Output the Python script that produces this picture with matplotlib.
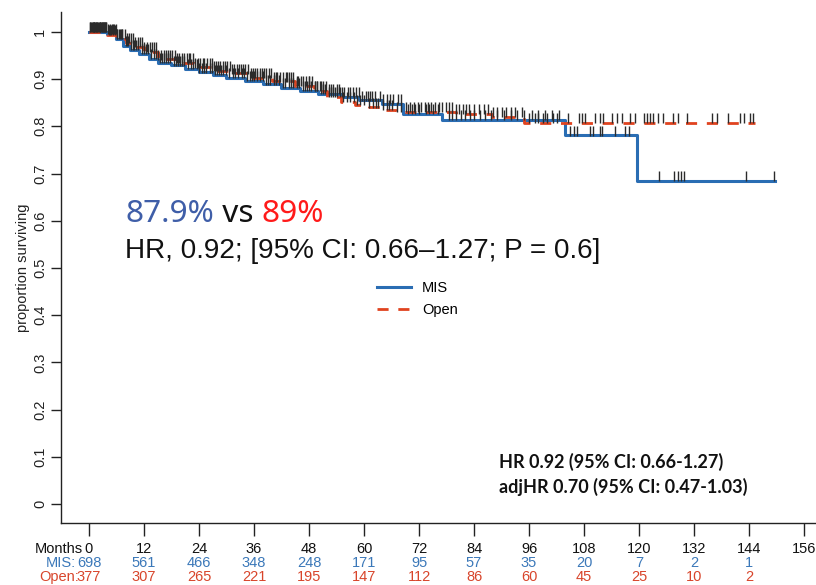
import numpy as np
import matplotlib
matplotlib.use("Agg")
import matplotlib.pyplot as plt
from matplotlib import font_manager as fm
import matplotlib.transforms as mtrans

# ---------------- data ----------------
mis_times = [0, 4, 6, 7.5, 9, 11, 13, 15, 18, 21, 24, 27, 30, 34, 38, 42, 46, 50, 55, 59, 64, 68.5, 77, 103.9, 119.6]
mis_surv = [1.0, 0.995, 0.985, 0.970, 0.962, 0.953, 0.943, 0.935, 0.929, 0.921, 0.914, 0.909, 0.903, 0.896,
            0.889, 0.882, 0.875, 0.868, 0.862, 0.855, 0.848, 0.826, 0.814, 0.781, 0.685]
mis_end = 149.7

open_times = [0, 4, 6, 8, 10, 12, 15, 19, 23, 27, 31, 35, 40, 45, 49, 52, 55, 58, 61, 64, 67, 80, 88, 95]
open_surv = [1.0, 0.993, 0.985, 0.976, 0.968, 0.958, 0.942, 0.935, 0.925, 0.918, 0.912, 0.903, 0.895, 0.885,
             0.875, 0.862, 0.852, 0.846, 0.840, 0.835, 0.830, 0.826, 0.820, 0.808]
open_end = 145.3

mis_censor = [0.2, 0.5, 0.8, 1, 1.2, 1.5, 1.8, 2, 2.3, 2.5, 2.8, 3, 3.3, 3.5, 3.8, 4.2, 4.6, 5, 5.3, 5.5, 5.8,
              6.2, 6.6, 7, 7.3, 8, 8.3, 8.6, 9.2, 9.5, 9.9, 10.3, 10.8, 11.5, 11.9, 12.4, 12.8, 13.6, 14.2,
              14.7, 15.5, 15.9, 16.3, 16.8, 17.2, 17.7, 18.5, 18.9, 19.4, 19.8, 20.3, 20.8, 21.5, 22.2, 22.8,
              23.5, 24.1, 24.6, 25.1, 25.5, 26.3, 26.8, 27.5, 27.9, 28.3, 28.8, 29.2, 29.8, 30.5, 31.4, 31.8,
              32.6, 33.3, 33.9, 34.5, 35.1, 35.5, 36.1, 36.6, 37.4, 37.9, 38.6, 39.1, 39.5, 40.4, 40.9, 41.5,
              42.3, 42.8, 43.6, 44.1, 44.5, 45.4, 45.9, 46.6, 47.2, 47.5, 48.1, 48.5, 49.4, 49.8, 50.6, 51.1,
              51.5, 52.4, 52.9, 53.3, 54.1, 54.5, 55.1, 55.6, 56.4, 56.9, 57.5, 58.3, 58.8, 59.5, 60.4, 60.9,
              61.2, 61.8, 62.5, 63.4, 64.1, 65, 65.6, 66.3, 67.5, 68.1, 69.5, 70.5, 71.2, 72, 73.5, 74.1, 75,
              76.2, 78.5, 79.3, 80, 81.2, 82, 83.1, 84, 85.3, 86.5, 87.8, 89, 90.5, 92, 93.4, 95, 96.7, 98, 99.5,
              101, 102.6, 105, 105.7, 106.4, 109.3, 110, 111.5, 111.9, 114.8, 117, 117.7, 124.4, 127.7, 128.4,
              129.2, 129.8, 143.4, 149.5]
open_censor = [0.3, 0.6, 0.8, 1.1, 1.3, 1.6, 1.8, 2.1, 2.3, 2.6, 2.8, 3.1, 3.3, 3.6, 3.8, 4.3, 4.5, 4.9, 5.3,
               5.7, 6.1, 6.8, 7.3, 7.8, 8.3, 8.8, 9.2, 9.7, 10.1, 10.6, 11.2, 11.6, 12.1, 12.6, 13.3, 13.8,
               14.2, 14.6, 15.1, 15.7, 16.4, 16.8, 17.2, 17.6, 18.1, 18.7, 19.3, 19.7, 20.2, 20.7, 21.4, 21.8,
               22.1, 22.6, 23.2, 23.7, 24.3, 24.8, 25.1, 25.7, 26.4, 26.9, 27.2, 27.7, 28.1, 28.6, 29.3, 29.7,
               30.2, 30.7, 31.1, 31.6, 32.4, 32.8, 33.2, 33.7, 34.1, 34.6, 35.3, 35.8, 36.2, 36.7, 37.4, 37.8,
               38.1, 38.6, 39.2, 39.7, 40.3, 40.8, 41.1, 41.6, 42.4, 42.9, 43.2, 43.7, 44.1, 44.6, 45.3, 45.7,
               46.2, 46.8, 47.4, 47.9, 48.1, 48.7, 49.2, 49.8, 50.3, 50.7, 51.1, 51.8, 52.4, 52.9, 53.2, 53.7,
               54.1, 54.8, 55.5, 56.2, 57, 57.8, 58.5, 59.2, 60, 61.1, 62, 62.6, 63, 64.2, 65, 65.5, 66, 67.2,
               68, 69.1, 70, 71, 71.8, 72.5, 73.2, 74, 74.7, 75.5, 76.3, 77, 77.8, 78.5, 79.2, 80, 80.8, 81.5,
               82.3, 83, 84.1, 85, 86.2, 87, 88.1, 89, 90.2, 91, 92.1, 93, 94.4, 96, 97.2, 98, 99.1, 100, 101.3,
               102, 104.6, 106.8, 107.5, 108.2, 110.4, 111.5, 112.2, 114, 115.1, 116.2, 118, 119.1, 121, 121.7,
               122.4, 123.1, 124.2, 125.3, 127.5, 128.6, 130.4, 135.9, 137, 139.5, 142, 142.8, 144.2, 144.9]

months = [0, 12, 24, 36, 48, 60, 72, 84, 96, 108, 120, 132, 144, 156]
mis_risk = ["698", "561", "466", "348", "248", "171", "95", "57", "35", "20", "7", "2", "1"]
open_risk = ["377", "307", "265", "221", "195", "147", "112", "86", "60", "45", "25", "10", "2"]
yticks = [0, 0.1, 0.2, 0.3, 0.4, 0.5, 0.6, 0.7, 0.8, 0.9, 1.0]
ytick_labels = ["0", "0.1", "0.2", "0.3", "0.4", "0.5", "0.6", "0.7", "0.8", "0.9", "1"]

# ---------------- fonts ----------------
avail = {f.name for f in fm.fontManager.ttflist}
def pick(*names):
    for n in names:
        if n in avail:
            return n
    return "DejaVu Sans"
NARROW = pick("Liberation Sans Narrow", "Liberation Sans")
ARIAL = pick("Liberation Sans", "DejaVu Sans")
BIG = pick("Noto Sans", "Open Sans", "DejaVu Sans")
BOLD = pick("Lato", "Open Sans", "DejaVu Sans")

BLUE = "#2a6db3"
RED = "#e0431f"
TXT_BLUE = "#3b78b9"
TXT_RED = "#d8452b"

W, H = 816, 585
fig = plt.figure(figsize=(W / 100, H / 100), dpi=100)
ax = fig.add_axes([61 / W, 1 - 523 / H, 1 - 61 / W, (523 - 12) / H])
ax.set_xlim(-6.1, 158.6)
ax.set_ylim(-0.040, 1.042)

def stepline(times, surv, end):
    x = list(times) + [end]
    y = list(surv) + [surv[-1]]
    return x, y

mx, my = stepline(mis_times, mis_surv, mis_end)
ox, oy = stepline(open_times, open_surv, open_end)
l1, = ax.step(mx, my, where="post", color=BLUE, lw=2.2, label="MIS", zorder=3)
l2, = ax.step(ox, oy, where="post", color=RED, lw=2.0, ls=(0, (4, 3.5)), label="Open", zorder=4)

def surv_at(times, surv, t):
    idx = np.searchsorted(np.asarray(times), np.asarray(t), side="right") - 1
    return np.asarray(surv)[idx]

for times, surv, cens in [(mis_times, mis_surv, mis_censor), (open_times, open_surv, open_censor)]:
    cy = surv_at(times, surv, cens)
    ax.plot(cens, cy + 0.010, ls="none", marker="|", ms=7, mew=1.0, color="#2b2b2b", zorder=5)

for s in ["top", "right"]:
    ax.spines[s].set_visible(False)
for s in ["left", "bottom"]:
    ax.spines[s].set_linewidth(1.0)
    ax.spines[s].set_color("#222222")

ax.set_yticks(yticks)
ax.set_yticklabels(ytick_labels, rotation=90, va="center", fontsize=10.5, family=NARROW, color="#222222")
ax.tick_params(axis="y", length=7, width=1.0, pad=3, color="#222222")
ax.set_xticks(months)
ax.set_xticklabels([])
ax.tick_params(axis="x", length=9, width=1.0, color="#222222")
ax.set_ylabel("proportion surviving", fontsize=10.5, family=NARROW, color="#222222", labelpad=2)

# number-at-risk table
btr = mtrans.blended_transform_factory(ax.transData, fig.transFigure)
def fy(py):
    return 1 - py / H
FS = 10.5
for i, m in enumerate(months):
    fig.text(m, fy(549), str(m), transform=btr, ha="center", va="center", fontsize=FS, family=NARROW, color="#111111")
for i, v in enumerate(mis_risk):
    fig.text(months[i], fy(563), v, transform=btr, ha="center", va="center", fontsize=FS, family=NARROW, color=TXT_BLUE)
for i, v in enumerate(open_risk):
    fig.text(months[i], fy(577), v, transform=btr, ha="center", va="center", fontsize=FS, family=NARROW, color=TXT_RED)
fig.text(83 / W, fy(549), "Months", ha="right", va="center", fontsize=FS, family=NARROW, color="#111111")
fig.text(76 / W, fy(563), "MIS:", ha="right", va="center", fontsize=FS, family=NARROW, color=TXT_BLUE)
fig.text(79 / W, fy(577), "Open:", ha="right", va="center", fontsize=FS, family=NARROW, color=TXT_RED)

# legend
ax.legend(handles=[l1, l2], loc="upper left", bbox_to_anchor=(377 / W, fy(281)),
          bbox_transform=fig.transFigure, frameon=False, handlelength=2.3,
          handletextpad=0.8, borderpad=0, borderaxespad=0, labelspacing=0.55,
          prop={"family": ARIAL, "size": 10.5})

# big annotation
fig.canvas.draw()
r = fig.canvas.get_renderer()
FB = 22.8
t1 = fig.text(125 / W, fy(214), "87.9%", ha="left", va="center", fontsize=FB, family=BIG, color="#3f5ea8")
bb = t1.get_window_extent(r)
t2 = fig.text(bb.x1 / W, fy(214), " vs ", ha="left", va="center", fontsize=FB, family=BIG, color="#111111")
bb = t2.get_window_extent(r)
t3 = fig.text(bb.x1 / W, fy(214), "89%", ha="left", va="center", fontsize=FB, family=BIG, color="#ff1a1a")
fig.text(125 / W, fy(251), "HR, 0.92; [95% CI: 0.66\u20131.27; P = 0.6]", ha="left", va="center",
         fontsize=20.1, family=ARIAL, color="#111111")

fig.text(499 / W, fy(462), "HR 0.92 (95% CI: 0.66-1.27)", ha="left", va="center", fontsize=13,
         family=BOLD, weight="bold", color="#111111")
fig.text(499 / W, fy(487), "adjHR 0.70 (95% CI: 0.47-1.03)", ha="left", va="center", fontsize=13,
         family=BOLD, weight="bold", color="#111111")

fig.savefig("out.png", dpi=100)
